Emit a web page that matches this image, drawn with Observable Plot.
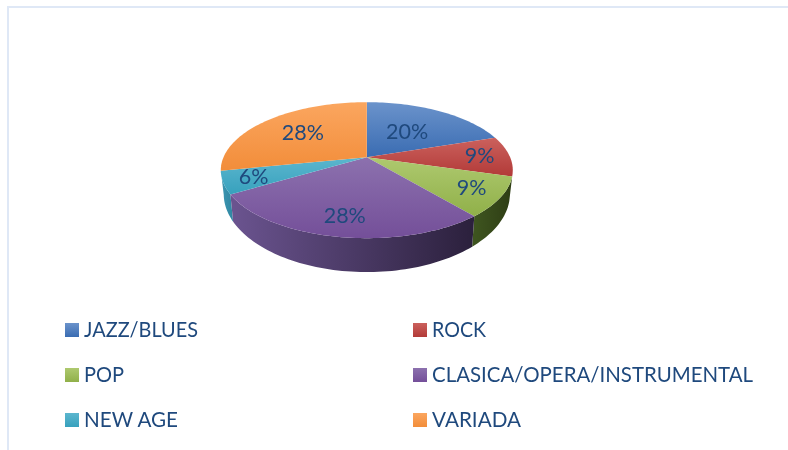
<!DOCTYPE html>
<html lang="es">
<head>
<meta charset="utf-8">
<script src="https://cdn.jsdelivr.net/npm/d3@7"></script>
<script src="https://cdn.jsdelivr.net/npm/@observablehq/plot@0.6"></script>
<style>
html,body{margin:0;padding:0;background:#fff;overflow:hidden}
#page{position:relative;width:788px;height:450px;overflow:hidden}
#frame{position:absolute;left:7px;top:6px;right:-4px;bottom:-4px;border-top:2px solid #dfe8f6;border-left:2px solid #dfe8f6}
#chart{position:absolute;left:0;top:0;filter:blur(.35px)}
#legend{position:absolute;left:0;top:0;width:788px;height:450px;font-family:Lato,sans-serif;font-size:21.5px;color:#1f497d;filter:blur(.3px)}
.item{position:absolute;display:flex;align-items:center;height:14px;white-space:nowrap}
.sw{display:inline-block;width:14px;height:14px;margin-right:5px;flex:none}
.lb{display:inline-block;transform-origin:left center}
</style>
</head>
<body>
<div id="page"><div id="frame"></div><div id="chart"></div><div id="legend"></div></div>
<script>
const categories = ["JAZZ/BLUES","ROCK","POP","CLASICA/OPERA/INSTRUMENTAL","NEW AGE","VARIADA"];
const shares = [20, 9.6, 9.5, 27.6, 5.4, 28.3];
const labels = ["20%","9%","9%","28%","6%","28%"];
const topLight = ["#6b93cb","#cb615d","#aec96f","#8c71ae","#5cb6ce","#fba65f"];
const topDark  = ["#3a6cb2","#b23a38","#90b049","#744f99","#37a1bd","#f28d3a"];
const sideFrom = [null,null,"#3f5620","#6b5490","#3d97b2",null];
const sideTo   = [null,null,"#2e3d14","#2b203c","#2f86a2",null];
const labelReach = [0.52,0.79,0.8,0.78,0.8,0.62];

const k = 0.191, deg = Math.PI / 180;
const wOf = v => 1 + k * v;
const rim = a => {
  const u = Math.sin(a * deg), v = Math.cos(a * deg), w = wOf(v);
  return {x: u / w, y: v / w};
};
const base = a => {
  const u = Math.sin(a * deg), v = Math.cos(a * deg), w = wOf(v);
  return {x: 0.98 * u / w, y: v / w - 0.339 / (w * w)};
};
const total = d3.sum(shares);
const cum = d3.cumsum(shares);
const slices = categories.map((c, i) => ({
  i, c,
  a0: (i ? cum[i - 1] : 0) / total * 360,
  a1: cum[i] / total * 360
}));
const arcAngles = (a0, a1) => {
  const n = Math.max(2, Math.ceil((a1 - a0) / 1.5));
  return d3.range(n + 1).map(j => a0 + (a1 - a0) * j / n);
};
const topFace = s => [{x: 0, y: 0}, ...arcAngles(s.a0, s.a1).map(rim)];
const wallFace = s => {
  const as = arcAngles(Math.max(s.a0, 90), Math.min(s.a1, 270));
  return [...as.map(rim), ...as.slice().reverse().map(base)];
};
const labelRows = slices.map(s => {
  const f = labelReach[s.i], m = (s.a0 + s.a1) / 2 * deg;
  const u = f * Math.sin(m), v = f * Math.cos(m), w = wOf(v);
  return {x: u / w, y: v / w, t: labels[s.i]};
});

const gradients = () => {
  const defs = d3.create("svg:defs");
  const add = (id, x2, y2, c0, c1) => {
    const g = defs.append("linearGradient").attr("id", id)
      .attr("x1", 0).attr("y1", 0).attr("x2", x2).attr("y2", y2);
    g.append("stop").attr("offset", "0%").attr("stop-color", c0);
    g.append("stop").attr("offset", "100%").attr("stop-color", c1);
  };
  categories.forEach((c, i) => {
    add("top" + i, 0, 1, topLight[i], topDark[i]);
    if (sideFrom[i]) add("side" + i, 1, 0, sideFrom[i], sideTo[i]);
  });
  return defs.node();
};

const walls = [4, 2, 3].map(i =>
  Plot.line(wallFace(slices[i]), {x: "x", y: "y", fill: `url(#side${i})`, stroke: "none"}));
const tops = slices.map(s =>
  Plot.line(topFace(s), {x: "x", y: "y", fill: `url(#top${s.i})`, stroke: "none"}));

const plot = Plot.plot({
  width: 788, height: 300, margin: 0,
  x: {domain: [-1, 1], range: [223, 509.6], axis: null},
  y: {domain: [-1, 1], range: [222.2, 91.2], axis: null},
  style: {background: "transparent"},
  marks: [
    gradients,
    ...walls,
    ...tops,
    Plot.text(labelRows, {x: "x", y: "y", text: "t", fill: "#1f497d",
      fontFamily: "Lato, sans-serif", fontSize: 21.5, textAnchor: "middle", lineAnchor: "middle"})
  ]
});
document.getElementById("chart").appendChild(plot);

const legend = document.getElementById("legend");
const columns = [65, 413], rowsY = [323, 368, 413];
const targetW = [114, 54, 40, 321, 94, 89];
categories.forEach((c, i) => {
  const el = document.createElement("div");
  el.className = "item";
  el.style.left = columns[i % 2] + "px";
  el.style.top = rowsY[Math.floor(i / 2)] + "px";
  const sw = document.createElement("span");
  sw.className = "sw";
  sw.style.background = `linear-gradient(${topLight[i]},${topDark[i]})`;
  const lb = document.createElement("span");
  lb.className = "lb";
  lb.textContent = c;
  el.append(sw, lb);
  legend.appendChild(el);
  const w = lb.getBoundingClientRect().width;
  lb.style.transform = `translateY(-1.5px) scaleX(${targetW[i] / w})`;
});
</script>
</body>
</html>
